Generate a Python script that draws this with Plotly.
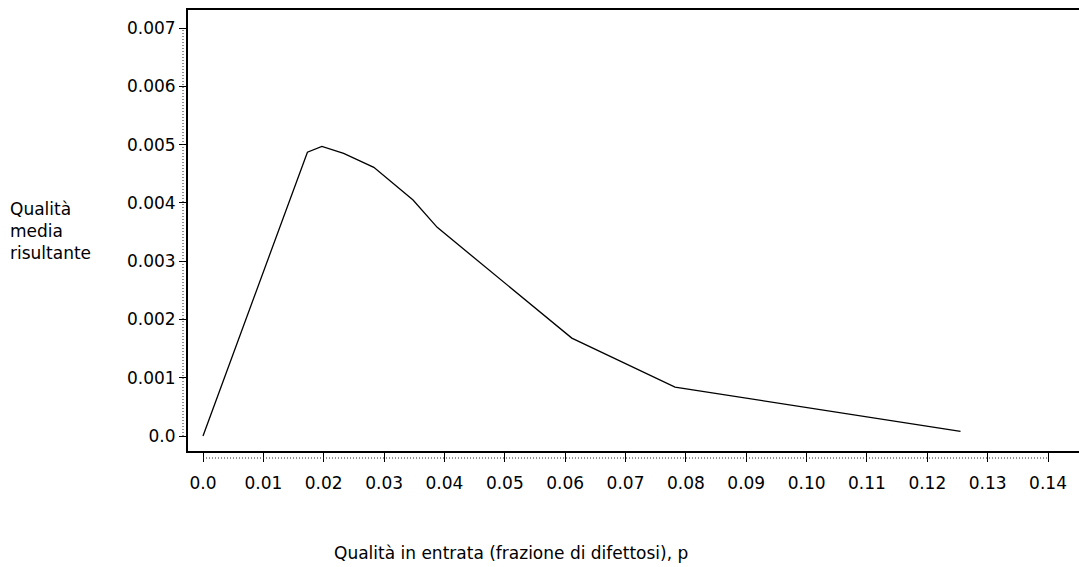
import plotly.graph_objects as go

# Average outgoing quality curve
p_in = [0.0, 0.0173, 0.0197, 0.0233, 0.0283, 0.0348, 0.0388, 0.0611, 0.0782, 0.1255]
aoq = [0.0, 0.00487, 0.00497, 0.00485, 0.00461, 0.00405, 0.00358, 0.00168, 0.00084, 0.00008]

x_ticks = [round(0.01 * i, 2) for i in range(15)]
x_tick_text = ["0.0"] + [f"{v:.2f}" for v in x_ticks[1:]]
y_ticks = [0.001 * i for i in range(8)]
y_tick_text = ["0.0"] + [f"{v:.3f}" for v in y_ticks[1:]]

FONT = "DejaVu Sans"

fig = go.Figure()
fig.add_trace(go.Scatter(
    x=p_in, y=aoq, mode="lines",
    line=dict(color="black", width=1.3),
    hoverinfo="skip", showlegend=False,
))

# dotted axis rails running alongside the frame
fig.add_shape(type="line", xref="paper", xsizemode="pixel", xanchor=0,
              x0=-5, x1=-5, yref="y", y0=y_ticks[0], y1=y_ticks[-1],
              line=dict(color="#222", width=1, dash="1px,2px"))
fig.add_shape(type="line", yref="paper", ysizemode="pixel", yanchor=0,
              y0=-7, y1=-7, xref="x", x0=x_ticks[0], x1=x_ticks[-1],
              line=dict(color="#222", width=1, dash="1px,2px"))

fig.add_annotation(
    text="Qualità<br>media<br>risultante", xref="paper", yref="paper",
    x=-180 / 891, y=0.50, xanchor="left", yanchor="middle",
    align="left", showarrow=False, font=dict(family=FONT, size=17, color="black"),
)
fig.add_annotation(
    text="Qualità in entrata (frazione di difettosi), p", xref="paper", yref="paper",
    x=(332 - 188) / 891, y=-0.205, xanchor="left", yanchor="top",
    showarrow=False, font=dict(family=FONT, size=17, color="black"),
)

fig.update_xaxes(
    range=[-0.002485, 0.14513], tickvals=x_ticks, ticktext=x_tick_text,
    showgrid=False, zeroline=False, showline=True, mirror=True,
    linecolor="black", linewidth=2, ticks="outside", ticklen=9, tickwidth=1,
    tickcolor="black", ticklabelstandoff=7,
    tickfont=dict(family=FONT, size=17, color="black"),
)
fig.update_yaxes(
    range=[-0.000257, 0.007309], tickvals=y_ticks, ticktext=y_tick_text,
    showgrid=False, zeroline=False, showline=True, mirror=False,
    linecolor="black", linewidth=2, ticks="outside", ticklen=7, tickwidth=1,
    tickcolor="black", tickfont=dict(family=FONT, size=17, color="black"),
)
fig.update_layout(
    width=1079, height=567,
    margin=dict(l=188, r=0, t=10, b=116, pad=0),
    paper_bgcolor="white", plot_bgcolor="white",
)

fig.write_html("out.html")
